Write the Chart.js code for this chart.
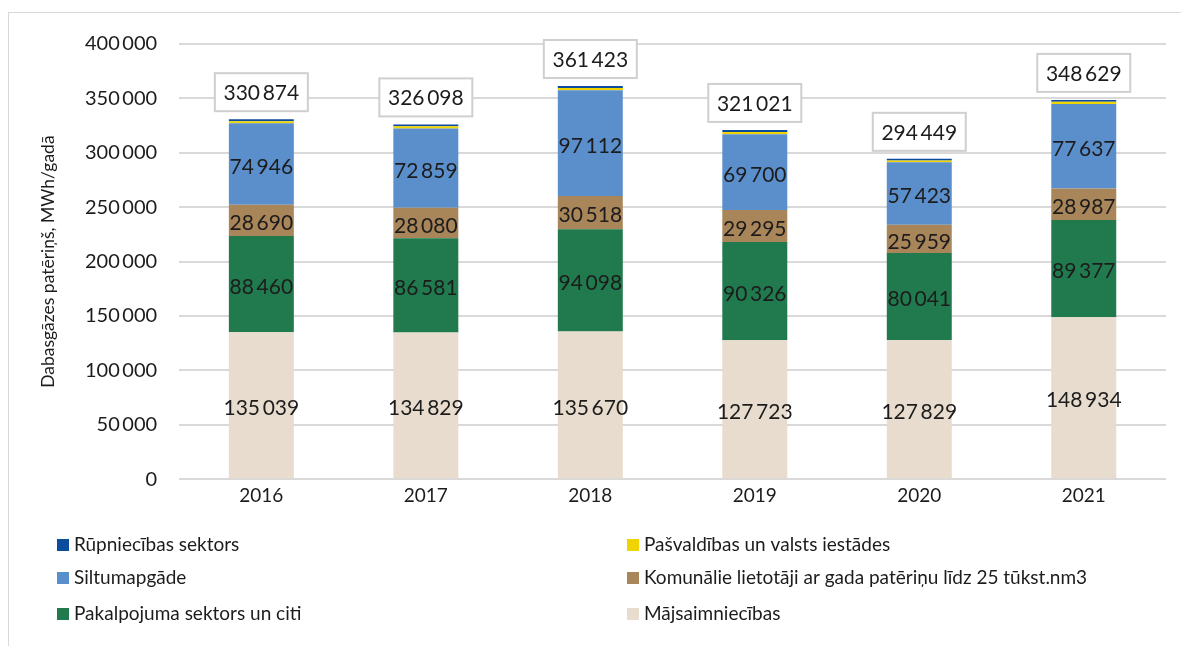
<!DOCTYPE html>
<html>
<head>
<meta charset="utf-8">
<script src="https://cdn.jsdelivr.net/npm/chart.js@4"></script>
<style>
  body { margin: 0; background: #fff; }
  #wrap { position: relative; width: 1181px; height: 646px; }
  #frame { position: absolute; left: 8px; top: 12px; width: 1200px; height: 700px; border: 1px solid #d9d9d9; box-sizing: border-box; }
  canvas { position: absolute; left: 0; top: 0; }
</style>
</head>
<body>
<div id="wrap">
  <div id="frame"></div>
  <canvas id="chart" width="1181" height="646"></canvas>
</div>
<script>
const years = ['2016', '2017', '2018', '2019', '2020', '2021'];

// series, bottom to top of the stack
const majsaimniecibas = [135039, 134829, 135670, 127723, 127829, 148934];
const pakalpojuma = [88460, 86581, 94098, 90326, 80041, 89377];
const komunalie = [28690, 28080, 30518, 29295, 25959, 28987];
const siltumapgade = [74946, 72859, 97112, 69700, 57423, 77637];
const pasvaldibas = [1900, 1950, 2100, 2050, 1650, 1900];
const rupniecibas = [1839, 1799, 1925, 1927, 1547, 1794];

const totals = [330874, 326098, 361423, 321021, 294449, 348629];

const yTicks = [0, 50000, 100000, 150000, 200000, 250000, 300000, 350000, 400000];

const FONT = 'Lato, "Open Sans", sans-serif';

function fmt(v) {
  return String(Math.round(v)).replace(/\B(?=(\d{3})+(?!\d))/g, '\u2009');
}

const datasets = [
  { label: 'Mājsaimniecības', data: majsaimniecibas, backgroundColor: '#e7dccd', showValue: true },
  { label: 'Pakalpojuma sektors un citi', data: pakalpojuma, backgroundColor: '#217a4e', showValue: true },
  { label: 'Komunālie lietotāji ar gada patēriņu līdz 25 tūkst.nm3', data: komunalie, backgroundColor: '#a9855a', showValue: true },
  { label: 'Siltumapgāde', data: siltumapgade, backgroundColor: '#5b8fcc', showValue: true },
  { label: 'Pašvaldības un valsts iestādes', data: pasvaldibas, backgroundColor: '#f0d400', showValue: false },
  { label: 'Rūpniecības sektors', data: rupniecibas, backgroundColor: '#0b4c9c', showValue: false }
];
datasets.forEach(d => { d.barPercentage = 0.395; d.categoryPercentage = 1.0; });

// values inside the segments and boxed totals on top
const labelsPlugin = {
  id: 'labels',
  afterDatasetsDraw(chart) {
    const ctx = chart.ctx;
    ctx.save();
    ctx.font = '21px ' + FONT;
    ctx.textAlign = 'center';
    ctx.textBaseline = 'middle';
    ctx.fillStyle = '#1c1c1c';
    chart.data.datasets.forEach((ds, di) => {
      if (!ds.showValue) return;
      chart.getDatasetMeta(di).data.forEach((bar, i) => {
        ctx.fillText(fmt(ds.data[i]), bar.x, (bar.y + bar.base) / 2 + 3);
      });
    });
    const top = chart.getDatasetMeta(chart.data.datasets.length - 1).data;
    top.forEach((bar, i) => {
      const w = 93, h = 38;
      const cy = bar.y - 8 - h / 2;
      ctx.fillStyle = '#fff';
      ctx.fillRect(bar.x - w / 2, cy - h / 2, w, h);
      ctx.strokeStyle = '#cfcfcf';
      ctx.lineWidth = 2;
      ctx.strokeRect(bar.x - w / 2, cy - h / 2, w, h);
      ctx.fillStyle = '#1c1c1c';
      ctx.fillText(fmt(totals[i]), bar.x, cy + 1);
    });
    ctx.restore();
  }
};

// two-column legend under the chart, same order as Excel
const legendPlugin = {
  id: 'legend2',
  afterDraw(chart) {
    const ctx = chart.ctx;
    const ds = chart.data.datasets;
    const order = [5, 4, 3, 2, 1, 0];
    const cols = [57, 627];
    const rows = [545, 578, 614];
    ctx.save();
    ctx.font = '19px ' + FONT;
    ctx.textBaseline = 'middle';
    ctx.textAlign = 'left';
    order.forEach((di, k) => {
      const x = cols[k % 2], y = rows[Math.floor(k / 2)];
      ctx.fillStyle = ds[di].backgroundColor;
      ctx.fillRect(x, y - 6, 12, 12);
      ctx.fillStyle = '#1c1c1c';
      ctx.fillText(ds[di].label, x + 17, y);
    });
    ctx.restore();
  }
};

new Chart(document.getElementById('chart'), {
  type: 'bar',
  data: { labels: years, datasets },
  options: {
    responsive: false,
    animation: false,
    layout: { padding: { left: 38, top: 44, right: 15, bottom: 142 } },
    plugins: {
      legend: { display: false },
      tooltip: { enabled: false }
    },
    scales: {
      x: {
        stacked: true,
        grid: { display: false },
        border: { display: false },
        ticks: { font: { family: FONT, size: 19 }, color: '#1c1c1c', padding: -3 }
      },
      y: {
        stacked: true,
        min: 0,
        max: 400000,
        afterBuildTicks(axis) { axis.ticks = yTicks.map(v => ({ value: v })); },
        grid: { color: '#d9d9d9', lineWidth: 2, drawTicks: false },
        border: { display: false },
        ticks: {
          font: { family: FONT, size: 20 },
          color: '#1c1c1c',
          padding: 22,
          callback: v => fmt(v)
        },
        title: {
          display: true,
          text: 'Dabasgāzes patēriņš, MWh/gadā',
          font: { family: FONT, size: 17.5 },
          color: '#1c1c1c',
          padding: { top: 0, bottom: 4 }
        }
      }
    }
  },
  plugins: [labelsPlugin, legendPlugin]
});
</script>
</body>
</html>
